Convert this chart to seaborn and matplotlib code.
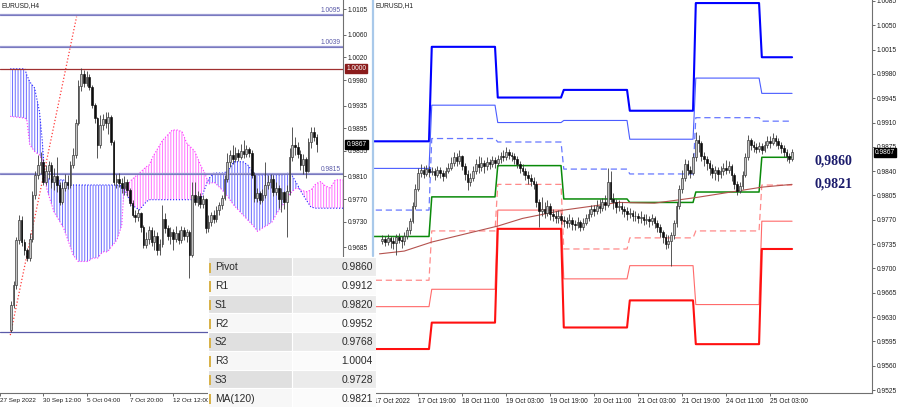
import numpy as np
import pandas as pd
import matplotlib
matplotlib.use("Agg")
import matplotlib.pyplot as plt
import matplotlib.transforms as mtransforms
from matplotlib.patches import Rectangle
from matplotlib.lines import Line2D
import seaborn as sns

# ================= EURUSD H4 (left panel) =================
# bar index 0 = 30 Sep 12:00 ; prices in pips (x 1e-4)
h4_start = -12
h4_first_open = 9539
h4_close = [9583, 9618, 9698, 9733, 9694, 9680, 9666, 9700, 9778, 9812, 9830, 9836,
            9800, 9820, 9830, 9800, 9810, 9795, 9765, 9790, 9800, 9795, 9830, 9848,
            9905, 9970, 9990, 9975, 9985, 9968, 9936, 9913, 9866, 9900, 9912, 9905,
            9915, 9871, 9800, 9805, 9798, 9790, 9800, 9786, 9763, 9742, 9738, 9745,
            9720, 9689, 9700, 9715, 9695, 9705, 9680, 9690, 9735, 9719, 9705, 9712,
            9700, 9710, 9698, 9715, 9705, 9712, 9671, 9778, 9765, 9775, 9762, 9770,
            9719, 9730, 9742, 9735, 9750, 9760, 9772, 9805, 9836, 9848, 9840, 9852,
            9845, 9855, 9850, 9858, 9852, 9813, 9772, 9780, 9768, 9778, 9795, 9800,
            9806, 9782, 9790, 9770, 9782, 9765, 9785, 9845, 9866, 9862, 9850, 9830,
            9840, 9820, 9870, 9889, 9880, 9867]
h4_high = [9590, 9625, 9703, 9742, 9740, 9700, 9684, 9710, 9785, 9820, 9848, 9854,
           9840, 9830, 9838, 9835, 9825, 9845, 9800, 9800, 9815, 9812, 9838, 9860,
           9912, 9980, 10001, 9998, 9996, 9990, 9972, 9940, 9915, 9918, 9920, 9924,
           9924, 9918, 9875, 9815, 9816, 9808, 9810, 9805, 9790, 9768, 9750, 9752,
           9748, 9725, 9712, 9722, 9720, 9716, 9712, 9700, 9760, 9745, 9725, 9720,
           9718, 9722, 9715, 9722, 9720, 9718, 9715, 9800, 9800, 9785, 9780, 9778,
           9772, 9742, 9748, 9750, 9758, 9765, 9778, 9812, 9851, 9856, 9865, 9862,
           9858, 9868, 9874, 9866, 9862, 9856, 9818, 9790, 9785, 9788, 9836, 9812,
           9815, 9812, 9800, 9795, 9790, 9785, 9795, 9860, 9898, 9880, 9870, 9856,
           9850, 9845, 9878, 9898, 9898, 9885]
h4_low = [9535, 9578, 9612, 9690, 9688, 9672, 9660, 9660, 9695, 9770, 9805, 9815,
          9795, 9795, 9805, 9790, 9786, 9783, 9760, 9762, 9785, 9788, 9790, 9825,
          9842, 9900, 9960, 9968, 9970, 9962, 9930, 9905, 9843, 9860, 9892, 9895,
          9885, 9865, 9795, 9790, 9792, 9780, 9778, 9775, 9758, 9738, 9730, 9732,
          9712, 9684, 9684, 9690, 9688, 9680, 9672, 9671, 9685, 9710, 9698, 9690,
          9680, 9695, 9690, 9692, 9698, 9695, 9631, 9668, 9760, 9758, 9755, 9755,
          9710, 9712, 9722, 9728, 9730, 9742, 9752, 9768, 9800, 9826, 9832, 9836,
          9838, 9840, 9842, 9845, 9844, 9808, 9765, 9765, 9762, 9765, 9772, 9788,
          9790, 9776, 9778, 9755, 9747, 9752, 9703, 9778, 9838, 9848, 9842, 9822,
          9815, 9807, 9818, 9860, 9872, 9854]

h4_xticks = [-16, 0, 16, 32, 48]
h4_xlabels = ["27 Sep 2022", "30 Sep 12:00", "5 Oct 04:00", "7 Oct 20:00", "12 Oct 12:00"]
h4_yticks = [1.0105, 1.0060, 1.0020, 0.9980, 0.9935, 0.9895, 0.9855, 0.9810, 0.9770, 0.9730, 0.9685]

# Ichimoku cloud (Senkou span A / B), pips
cloud_idx = [-12.2, -6.8, -6.1, -5.0, -3.2, -1.4, -0.4, 0.4, 1.4, 3.9, 7.5, 9.3, 11.1, 12.9,
             16.5, 18.3, 20.1, 21.9, 23.7, 27.2, 29.0, 29.8, 32.6, 35.5, 38.0, 39.1, 40.5,
             44.1, 47.7, 49.5, 51.3, 53.0, 55.9, 58.4, 59.5, 60.6, 61.3, 63.1, 64.9, 66.7,
             68.5, 70.3, 73.8, 75.6, 77.4, 79.2, 81.0, 82.8, 84.6, 86.4, 88.2, 90.0, 91.8,
             93.6, 95.3, 97.1, 98.9, 100.7, 102.5, 104.3, 106.1, 107.9, 110.8]
span_a = [10000, 10000, 9989, 9977, 9966, 9924, 9874, 9818, 9807, 9804, 9804, 9795, 9795, 9795,
          9795, 9795, 9795, 9795, 9795, 9795, 9793, 9790, 9760, 9751, 9765, 9769, 9769,
          9769, 9769, 9769, 9769, 9769, 9769, 9772, 9786, 9800, 9807, 9816, 9816, 9816,
          9821, 9836, 9836, 9830, 9818, 9813, 9813, 9813, 9813, 9813, 9813, 9816, 9813,
          9798, 9783, 9769, 9756, 9754, 9754, 9754, 9754, 9754, 9754]
span_b = [9916, 9913, 9910, 9866, 9854, 9848, 9839, 9813, 9786, 9748, 9719, 9695, 9671, 9660,
          9660, 9666, 9666, 9677, 9677, 9698, 9724, 9788, 9804, 9816, 9827, 9830, 9845,
          9874, 9892, 9892, 9889, 9869, 9855, 9827, 9818, 9804, 9797, 9800, 9792, 9783,
          9772, 9760, 9742, 9733, 9724, 9713, 9719, 9724, 9730, 9746, 9757, 9772, 9783,
          9790, 9786, 9783, 9786, 9797, 9801, 9793, 9790, 9804, 9804]

h4_levels = [1.0095, 1.0039, 0.9815]
h4_level_labels = ["1.0095", "1.0039", "0.9815"]
h4_round_level = 1.0000
h4_bottom_level = 0.9536
trend_idx = [-12.2, 12.3]
trend_val = [0.9530, 1.0092]

# ================= EURUSD H1 (right panel) =================
# bar index 0 = 17 Oct 00:00 (weekend skipped); prices in pips
h1_start = 6
h1_first_open = 9740
h1_close = [9742, 9738, 9744, 9740, 9736, 9745, 9741, 9739, 9746, 9755, 9768, 9790, 9815,
            9838, 9842, 9836, 9843, 9839, 9840, 9835, 9842, 9838, 9833, 9840, 9845,
            9852, 9860, 9855, 9862, 9848, 9836, 9825, 9830, 9840, 9850, 9846, 9852, 9848,
            9853, 9850, 9856, 9852, 9858, 9862, 9860, 9868, 9864, 9862, 9858, 9850, 9845,
            9840, 9834, 9830, 9826, 9822, 9795, 9782, 9786, 9780, 9790, 9778, 9776, 9772,
            9775, 9770, 9768, 9766, 9770, 9764, 9762, 9767, 9760, 9765, 9772, 9778, 9785,
            9783, 9790, 9787, 9795, 9792, 9825, 9800, 9795, 9788, 9790, 9786, 9782, 9778,
            9780, 9775, 9776, 9772, 9774, 9770, 9771, 9768, 9772, 9766, 9760, 9752, 9745,
            9735, 9740, 9748, 9765, 9790, 9815, 9830, 9850, 9842, 9838, 9860, 9885, 9880,
            9862, 9858, 9852, 9845, 9838, 9842, 9836, 9840, 9845, 9842, 9848, 9835, 9822,
            9812, 9818, 9835, 9860, 9885, 9878, 9875, 9872, 9876, 9870, 9878, 9884, 9880,
            9888, 9884, 9878, 9874, 9868, 9862, 9858, 9867]
h1_high = [9748, 9746, 9750, 9747, 9745, 9750, 9751, 9746, 9752, 9760, 9772, 9795, 9822,
           9845, 9850, 9848, 9849, 9847, 9846, 9844, 9848, 9846, 9842, 9846, 9852,
           9860, 9868, 9866, 9870, 9864, 9852, 9842, 9838, 9848, 9858, 9862, 9860, 9856,
           9860, 9858, 9862, 9860, 9864, 9868, 9870, 9875, 9872, 9868, 9866, 9862, 9855,
           9850, 9845, 9840, 9836, 9832, 9826, 9800, 9803, 9795, 9798, 9794, 9785, 9782,
           9784, 9780, 9776, 9774, 9778, 9774, 9770, 9774, 9770, 9772, 9778, 9785, 9792,
           9792, 9798, 9800, 9802, 9805, 9844, 9840, 9808, 9800, 9798, 9796, 9790, 9788,
           9787, 9784, 9782, 9780, 9782, 9778, 9778, 9776, 9778, 9776, 9770, 9764, 9756,
           9750, 9748, 9752, 9770, 9795, 9820, 9842, 9858, 9856, 9848, 9866, 9897, 9892,
           9884, 9868, 9862, 9856, 9850, 9848, 9846, 9848, 9852, 9856, 9854, 9850, 9838,
           9826, 9825, 9840, 9866, 9892, 9888, 9884, 9880, 9882, 9880, 9884, 9890, 9890,
           9895, 9892, 9888, 9882, 9878, 9872, 9866, 9872]
h1_low = [9735, 9732, 9734, 9730, 9728, 9719, 9736, 9730, 9734, 9742, 9750, 9765, 9786,
          9812, 9832, 9830, 9833, 9832, 9834, 9828, 9832, 9830, 9826, 9830, 9838,
          9842, 9848, 9848, 9850, 9842, 9828, 9813, 9818, 9826, 9836, 9838, 9840, 9838,
          9842, 9843, 9846, 9845, 9848, 9852, 9854, 9856, 9858, 9855, 9850, 9844, 9838,
          9834, 9828, 9822, 9818, 9814, 9788, 9760, 9776, 9772, 9776, 9770, 9768, 9765,
          9766, 9764, 9760, 9758, 9760, 9756, 9755, 9758, 9754, 9756, 9762, 9768, 9774,
          9776, 9778, 9780, 9782, 9784, 9788, 9795, 9786, 9780, 9782, 9778, 9774, 9770,
          9772, 9768, 9768, 9765, 9766, 9763, 9764, 9760, 9762, 9758, 9752, 9745, 9736,
          9728, 9730, 9704, 9742, 9760, 9785, 9808, 9826, 9835, 9830, 9834, 9855, 9868,
          9855, 9848, 9842, 9835, 9830, 9828, 9826, 9830, 9835, 9836, 9838, 9826, 9815,
          9806, 9808, 9814, 9832, 9856, 9870, 9868, 9866, 9868, 9865, 9868, 9874, 9874,
          9878, 9876, 9872, 9866, 9860, 9855, 9852, 9855]

# daily pivot levels (17, 18, 19, 20, 21, 24, 25 Oct)
day_start = [0, 24, 48, 72, 96, 120, 144]
day_end = [23, 47, 71, 95, 119, 143, 155]
lvl_r3 = [0.9883, 1.0019, 0.9946, 0.9957, 0.9927, 1.0082, 1.0004]
lvl_r2 = [0.9844, 0.9935, 0.9910, 0.9913, 0.9886, 0.9974, 0.9952]
lvl_r1 = [0.9784, 0.9887, 0.9882, 0.9843, 0.9836, 0.9917, 0.9912]
lvl_pp = [0.9746, 0.9803, 0.9848, 0.9800, 0.9795, 0.9810, 0.9860]
lvl_s1 = [0.9683, 0.9754, 0.9821, 0.9728, 0.9744, 0.9754, 0.9820]
lvl_s2 = [0.9645, 0.9670, 0.9784, 0.9685, 0.9704, 0.9648, 0.9768]
lvl_s3 = [0.9584, 0.9622, 0.9757, 0.9615, 0.9654, 0.9591, 0.9728]

ma_idx = [5, 14, 24, 48, 57, 72, 92, 105, 120, 144, 155]
ma_val = [0.9721, 0.9725, 0.9738, 0.9761, 0.9772, 0.9784, 0.9795, 0.9794, 0.9802, 0.9817, 0.9821]

h1_xticks = [3, 19, 35, 51, 67, 83, 99, 115, 131, 147]
h1_xlabels = ["17 Oct 2022", "17 Oct 19:00", "18 Oct 11:00", "19 Oct 03:00", "19 Oct 19:00",
              "20 Oct 11:00", "21 Oct 03:00", "21 Oct 19:00", "24 Oct 11:00", "25 Oct 03:00"]
h1_yticks = [1.0085, 1.0050, 1.0015, 0.9980, 0.9945, 0.9910, 0.9875, 0.9840, 0.9805,
             0.9770, 0.9735, 0.9700, 0.9665, 0.9630, 0.9595, 0.9560, 0.9525]

last_price = 0.9867
key_labels = ["0,9860", "0,9821"]
key_values = [0.9854, 0.9821]

table_names = ["Pivot", "R1", "S1", "R2", "S2", "R3", "S3", "MA(120)"]
table_values = ["0.9860", "0.9912", "0.9820", "0.9952", "0.9768", "1.0004", "0.9728", "0.9821"]

# ================= drawing =================
sns.set_theme(style="white")
plt.rcParams["font.family"] = ["Liberation Sans", "DejaVu Sans"]
plt.rcParams["hatch.linewidth"] = 0.75

W, H = 900, 409
fig = plt.figure(figsize=(W / 100, H / 100), dpi=100)
fig.patch.set_facecolor("white")


def box(x0, y0, x1, y1):
    return [x0 / W, 1 - y1 / H, (x1 - x0) / W, (y1 - y0) / H]


def draw_candles(ax, start, first_open, close, high, low):
    c = np.array(close) / 1e4
    h = np.array(high) / 1e4
    l = np.array(low) / 1e4
    o = np.concatenate([[first_open / 1e4], c[:-1]])
    idx = np.arange(start, start + len(c))
    ax.vlines(idx, l, h, color="#3c3c3c", lw=0.6, zorder=4)
    lo = np.minimum(o, c)
    hh = np.maximum(np.abs(c - o), 0.00012)
    up = c >= o
    ax.bar(idx[up], hh[up], bottom=lo[up], width=0.62, color="#c4c4c4",
           edgecolor="#2e2e2e", linewidth=0.45, zorder=5)
    ax.bar(idx[~up], hh[~up], bottom=lo[~up], width=0.62, color="#0c0c0c",
           edgecolor="#0c0c0c", linewidth=0.45, zorder=5)


def style_axis(ax, xlabsize=4.8):
    for s in ["top", "left"]:
        ax.spines[s].set_visible(False)
    for s in ["right", "bottom"]:
        ax.spines[s].set_color("#707070")
        ax.spines[s].set_linewidth(0.8)
    ax.yaxis.tick_right()
    ax.tick_params(axis="both", which="both", direction="out", length=2, width=0.6,
                   color="#505050", labelsize=4.8, labelcolor="#1e1e1e", pad=1.5,
                   bottom=True, right=True, left=False)
    ax.tick_params(axis="x", labelsize=xlabsize)
    ax.grid(False)
    ax.set_facecolor("white")
    ax.set_xlabel("")
    ax.set_ylabel("")


PRICE_BOX = dict(boxstyle="square,pad=0.15", facecolor="black", edgecolor="black")

# ---------- right panel (H1) ----------
ax_r = fig.add_axes(box(374, 0, 872, 393))
ax_r.set_xlim(4.93, 184.06)
ax_r.set_ylim(0.95207, 1.00864)

level_styles = [
    (lvl_r3, "#0000ff", 1.5, "-"),
    (lvl_r2, "#4a5cff", 0.8, "-"),
    (lvl_r1, "#6677ff", 0.9, (0, (5, 3))),
    (lvl_pp, "#0a8a0a", 1.1, "-"),
    (lvl_s1, "#ff8a8a", 0.9, (0, (5, 3))),
    (lvl_s2, "#ff6a6a", 0.8, "-"),
    (lvl_s3, "#ff1010", 1.5, "-"),
]
for vals, col, lw, ls in level_styles:
    xs, ys = [], []
    for s, e, v in zip(day_start, day_end, vals):
        xs += [s, e]
        ys += [v, v]
    sns.lineplot(x=xs, y=ys, ax=ax_r, color=col, linewidth=lw, linestyle=ls,
                 sort=False, estimator=None, zorder=2)

sns.lineplot(x=ma_idx, y=ma_val, ax=ax_r, color="#b4524e", linewidth=0.8,
             sort=False, estimator=None, zorder=3)

draw_candles(ax_r, h1_start, h1_first_open, h1_close, h1_high, h1_low)
style_axis(ax_r)
ax_r.set_yticks(h1_yticks)
ax_r.set_yticklabels([f"{v:.4f}" for v in h1_yticks])
ax_r.set_xticks(h1_xticks)
ax_r.set_xticklabels(h1_xlabels, ha="left")

for lab, val in zip(key_labels, key_values):
    ax_r.text(170, val, lab, ha="center", va="center", fontsize=10, fontweight="bold",
              family=["Liberation Serif", "DejaVu Serif"], color="#1c1c6c", zorder=6)

tr_r = mtransforms.blended_transform_factory(ax_r.transAxes, ax_r.transData)
ax_r.text(1.006, last_price, f"{last_price:.4f}", transform=tr_r, ha="left", va="center",
          fontsize=4.8, color="white", zorder=10, clip_on=False, bbox=PRICE_BOX)
ax_r.text(0.004, 0.995, "EURUSD,H1", transform=ax_r.transAxes, ha="left", va="top",
          fontsize=4.8, color="#1e1e1e")

# ---------- left panel (H4) ----------
ax_l = fig.add_axes(box(0, 0, 343, 393))
ax_l.set_xlim(-12.19, 110.75)
ax_l.set_ylim(0.94279, 1.01214)

ci = np.array(cloud_idx)
sa = np.array(span_a) / 1e4
sb = np.array(span_b) / 1e4
ax_l.fill_between(ci, sa, sb, where=sa >= sb, interpolate=True, facecolor="none",
                  edgecolor="#7474ff", hatch="||||||", linewidth=0, zorder=1)
ax_l.fill_between(ci, sa, sb, where=sb > sa, interpolate=True, facecolor="none",
                  edgecolor="#ff7cff", hatch="||||||", linewidth=0, zorder=1)
sns.lineplot(x=ci, y=sa, ax=ax_l, color="#2020ff", linewidth=0.8, linestyle=":",
             sort=False, estimator=None, zorder=2)
sns.lineplot(x=ci, y=sb, ax=ax_l, color="#ff30ff", linewidth=0.8, linestyle=":",
             sort=False, estimator=None, zorder=2)

for lv, lab in zip(h4_levels, h4_level_labels):
    ax_l.axhline(lv, color="#9a9ad2", lw=1.6, zorder=2)
    ax_l.axhline(lv, color="#6c6cb8", lw=0.5, zorder=2)
    ax_l.text(110.0, lv + 0.0002, lab, ha="right", va="bottom", fontsize=4.8,
              color="#5a5aa8", zorder=6)
ax_l.axhline(h4_round_level, color="#a03030", lw=0.9, zorder=2)
ax_l.axhline(h4_bottom_level, color="#5a5aa8", lw=0.9, zorder=2)

sns.lineplot(x=trend_idx, y=trend_val, ax=ax_l, color="#ff3b3b", linewidth=0.9,
             linestyle=":", sort=False, estimator=None, zorder=3)

draw_candles(ax_l, h4_start, h4_first_open, h4_close, h4_high, h4_low)
style_axis(ax_l, xlabsize=4.55)
ax_l.set_yticks(h4_yticks)
ax_l.set_yticklabels([f"{v:.4f}" for v in h4_yticks])
ax_l.set_xticks(h4_xticks)
ax_l.set_xticklabels(h4_xlabels, ha="left")

tr_l = mtransforms.blended_transform_factory(ax_l.transAxes, ax_l.transData)
ax_l.text(1.01, last_price, f"{last_price:.4f}", transform=tr_l, ha="left", va="center",
          fontsize=4.8, color="white", zorder=10, clip_on=False, bbox=PRICE_BOX)
ax_l.text(1.01, h4_round_level, f"{h4_round_level:.4f}", transform=tr_l, ha="left",
          va="center", fontsize=4.8, color="white", zorder=10, clip_on=False,
          bbox=dict(boxstyle="square,pad=0.15", facecolor="#8b1c1c", edgecolor="#8b1c1c"))
ax_l.text(0.004, 0.995, "EURUSD,H4", transform=ax_l.transAxes, ha="left", va="top",
          fontsize=4.8, color="#1e1e1e")

# separator between windows
fig.add_artist(Line2D([373 / W, 373 / W], [1, 1 - 256 / H], color="#a9c9ea", lw=1.6))

# ---------- table ----------
ax_t = fig.add_axes(box(208, 257, 376, 407))
ax_t.set_xlim(0, 1)
ax_t.set_ylim(len(table_names), 0)
ax_t.axis("off")
split = 0.498
for i, (nm, val) in enumerate(zip(table_names, table_values)):
    shaded = i % 2 == 0
    lc = "#e0e0e0" if shaded else "#f7f7f7"
    rc = "#ebebeb" if shaded else "#fbfbfb"
    ax_t.add_patch(Rectangle((0, i), split, 1, facecolor=lc, edgecolor="white", lw=0.8))
    ax_t.add_patch(Rectangle((split, i), 1 - split, 1, facecolor=rc, edgecolor="white", lw=0.8))
    ax_t.add_patch(Rectangle((0.004, i + 0.3), 0.016, 0.55, facecolor="#d8b24a", edgecolor="none"))
    ax_t.text(0.04, i + 0.55, nm, ha="left", va="center", fontsize=7.4, color="#2a2a2a")
    ax_t.text(0.982, i + 0.55, val, ha="right", va="center", fontsize=7.4, color="#2a2a2a")

fig.savefig("out.png", dpi=100, facecolor="white")
